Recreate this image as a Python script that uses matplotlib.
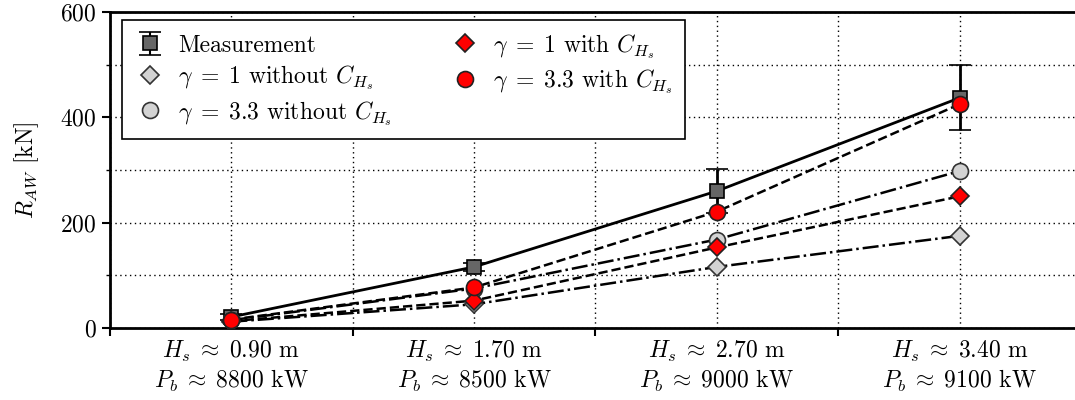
import matplotlib
matplotlib.use("Agg")
import matplotlib.pyplot as plt

plt.rcParams["font.family"] = "serif"
plt.rcParams["font.serif"] = ["cmr10", "DejaVu Serif"]
plt.rcParams["mathtext.fontset"] = "cm"
plt.rcParams["axes.formatter.use_mathtext"] = True

# sea states
hs = ["0.90", "1.70", "2.70", "3.40"]
pb = ["8800", "8500", "9000", "9100"]

# added resistance in waves [kN]
meas = [21, 116, 260, 437]
meas_err = [5, 8, 42, 62]
g1_without = [12, 45, 116, 175]
g33_without = [15, 75, 168, 298]
g1_with = [13, 52, 153, 250]
g33_with = [16, 77, 221, 425]

x = list(range(len(hs)))
tick_labels = [rf"$H_s \;\approx\; {h}$ m" + "\n" + rf"$P_b \;\approx\; {p}$ kW"
               for h, p in zip(hs, pb)]

fs = 17

fig = plt.figure(figsize=(10.75, 4), dpi=100)
ax = fig.add_axes([0.1023, 0.18, 0.9033, 0.79])

# measurement: line drawn separately so the legend shows only marker + bar
ax.plot(x, meas, color="black", lw=2, ls="-", zorder=2.4)
h_meas = ax.errorbar(x, meas, yerr=meas_err, color="black", ls="none", marker="s",
                     ms=10.5, mfc="#666666", mec="black", mew=1.2, capsize=8, capthick=2,
                     elinewidth=2, label="Measurement", zorder=2.5)
h1, = ax.plot(x, g1_without, color="black", lw=1.8, ls="-.", marker="D", ms=9.5,
              mfc="#d3d3d3", mec="#333333", mew=1.2,
              label=r"$\gamma \;=\; 1$ without $C_{H_s}$", zorder=3)
h2, = ax.plot(x, g33_without, color="black", lw=1.8, ls="-.", marker="o", ms=11.5,
              mfc="#d3d3d3", mec="#333333", mew=1.2,
              label=r"$\gamma \;=\; 3.3$ without $C_{H_s}$", zorder=3)
h3, = ax.plot(x, g1_with, color="black", lw=1.8, ls="--", marker="D", ms=9.5,
              mfc="red", mec="#222222", mew=1.2,
              label=r"$\gamma \;=\; 1$ with $C_{H_s}$", zorder=3)
h4, = ax.plot(x, g33_with, color="black", lw=1.8, ls="--", marker="o", ms=11.5,
              mfc="red", mec="#222222", mew=1.2,
              label=r"$\gamma \;=\; 3.3$ with $C_{H_s}$", zorder=3)

ax.set_xlim(-0.5, 3.5)
ax.set_ylim(0, 600)
ax.set_yticks([0, 200, 400, 600])
ax.set_yticks([100, 300, 500], minor=True)
ax.set_xticks([-0.5, 0.5, 1.5, 2.5, 3.5])
ax.set_xticklabels([])
ax.set_xticks(x, minor=True)
ax.set_xticklabels(tick_labels, minor=True, fontsize=fs)
ax.tick_params(axis="x", which="minor", length=0, pad=8)
ax.tick_params(axis="x", which="major", length=6, width=1.5, direction="out")
ax.tick_params(axis="y", which="major", length=6, width=1.5, labelsize=fs)
ax.tick_params(axis="y", which="minor", length=3, width=1)
ax.grid(True, which="both", color="black", ls=(0, (1, 2.5)), lw=1)
ax.set_axisbelow(True)

for s in ["left", "bottom", "top"]:
    ax.spines[s].set_linewidth(2)
ax.spines["right"].set_visible(False)

ax.set_ylabel(r"$R_{AW}$ [kN]", fontsize=fs, labelpad=14)

handles = [h_meas, h1, h2, h3, h4]
leg = ax.legend(handles, [h.get_label() for h in handles], loc="upper left",
                ncol=2, fontsize=fs, fancybox=False,
                framealpha=1, edgecolor="black", borderpad=0.5,
                borderaxespad=0, handletextpad=0.5, columnspacing=2.4,
                labelspacing=0.28, handlelength=1.4,
                bbox_to_anchor=(0.012, 0.975))
leg.get_frame().set_linewidth(1.2)
for h in leg.legend_handles:
    try:
        h.set_linestyle("None")
    except Exception:
        pass

fig.savefig("out.png", dpi=100)
